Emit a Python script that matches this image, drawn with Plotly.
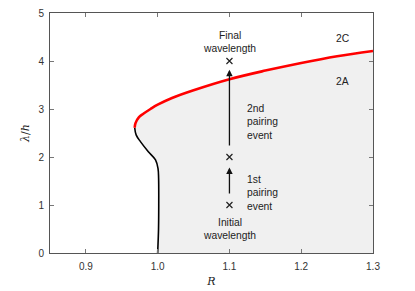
import plotly.graph_objects as go

# Data
black_R = [1.000, 1.0012, 1.0015, 1.0013, 1.0005, 0.997, 0.987, 0.976, 0.970, 0.968]
black_lam = [0.00, 0.50, 1.00, 1.56, 1.76, 1.94, 2.11, 2.32, 2.46, 2.61]
red_R = [0.968, 0.969, 0.974, 0.980, 0.990, 1.000, 1.020, 1.050, 1.100, 1.150, 1.200, 1.250, 1.300]
red_lam = [2.61, 2.70, 2.83, 2.90, 3.00, 3.09, 3.23, 3.39, 3.62, 3.80, 3.96, 4.10, 4.21]
mark_R = [1.1, 1.1, 1.1]
mark_lam = [1.0, 2.0, 4.0]
x_ticks = [0.9, 1.0, 1.1, 1.2, 1.3]
y_ticks = [0, 1, 2, 3, 4, 5]

fig = go.Figure()

# shaded region
poly_R = black_R + red_R[1:] + [1.3, 1.0]
poly_lam = black_lam + red_lam[1:] + [0.0, 0.0]
fig.add_trace(go.Scatter(x=poly_R, y=poly_lam, fill='toself', fillcolor='#f0f0f0',
                         line=dict(width=0), mode='lines', hoverinfo='skip'))
fig.add_trace(go.Scatter(x=black_R, y=black_lam, mode='lines', line_shape='spline',
                         line=dict(color='black', width=1.6)))
fig.add_trace(go.Scatter(x=red_R, y=red_lam, mode='lines', line_shape='spline',
                         line=dict(color='#ff0000', width=2.6)))
fig.add_trace(go.Scatter(x=mark_R, y=mark_lam, mode='markers',
                         marker=dict(symbol='x-thin', size=6, line=dict(color='#222', width=1.2))))

font_txt = dict(family='Liberation Sans, Arial, sans-serif', size=10.3, color='#222')

# arrows
for y0, y1 in [(1.21, 1.78), (2.21, 3.82)]:
    fig.add_annotation(x=1.1, y=y1, ax=1.1, ay=y0, xref='x', yref='y', axref='x', ayref='y',
                       showarrow=True, arrowhead=2, arrowsize=1.0, arrowwidth=1.3,
                       arrowcolor='#111', text='')

texts = [
    (1.1, 4.40, 'Final<br>wavelength', 'center'),
    (1.1, 0.50, 'Initial<br>wavelength', 'center'),
    (1.122, 1.25, '1st<br>pairing<br>event', 'left'),
    (1.122, 2.72, '2nd<br>pairing<br>event', 'left'),
    (1.258, 4.46, '2C', 'center'),
    (1.258, 3.57, '2A', 'center'),
]
for x, y, t, al in texts:
    fig.add_annotation(x=x, y=y, xref='x', yref='y', text=t, showarrow=False,
                       xanchor='left' if al == 'left' else 'center', yanchor='middle',
                       align=al, font=font_txt)

axis_common = dict(showgrid=False, zeroline=False, showline=True, linecolor='#555',
                   linewidth=1, mirror='ticks', ticks='inside', ticklen=4, tickcolor='#777',
                   automargin=False, ticklabeloverflow='allow',
                   tickfont=dict(family='Liberation Sans, Arial, sans-serif', size=10, color='#333'))
fig.update_xaxes(range=[0.85, 1.3], tickvals=x_ticks, ticktext=[str(v) for v in x_ticks],
                 ticklabelstandoff=4,
                 title=dict(text='<i>R</i>', font=dict(family='DejaVu Serif, serif', size=11, color='#222'),
                            standoff=6), **axis_common)
fig.update_yaxes(range=[0, 5], tickvals=y_ticks, ticklabelstandoff=3,
                 title=dict(text='<i>λ</i>/<i>h</i>', font=dict(family='DejaVu Serif, serif', size=11, color='#222'),
                            standoff=6), **axis_common)

# page body has an 8px default margin, so the figure is shrunk to compensate
fig.update_layout(width=407, height=283, margin=dict(l=42, r=42, t=5, b=38),
                  showlegend=False, plot_bgcolor='white', paper_bgcolor='white')

fig.write_html("out.html")
